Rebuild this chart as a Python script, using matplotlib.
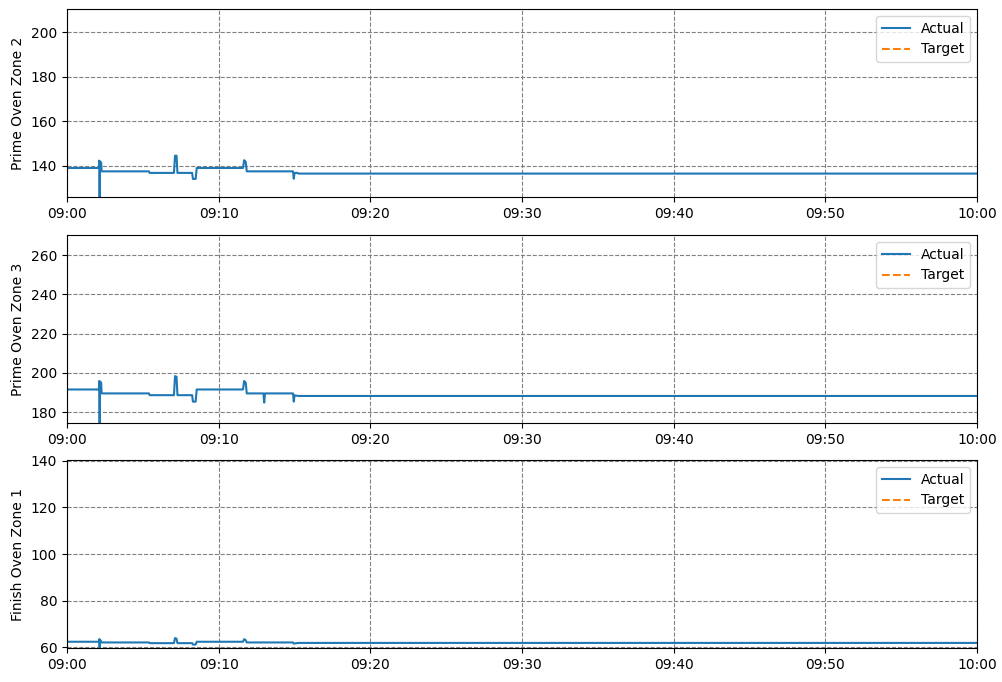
import numpy as np
import pandas as pd
import matplotlib
matplotlib.use("Agg")
import matplotlib.pyplot as plt
import matplotlib.dates as mdates

# minutes after 09:00 and readings for each zone (breakpoints)
zone2_min = [0, 2.10, 2.12, 2.15, 2.18, 2.25, 2.28, 5.40, 5.45, 7.05, 7.12, 7.22, 7.28,
             8.25, 8.30, 8.48, 8.55, 11.60, 11.68, 11.78, 11.85, 14.90, 14.95, 15.00,
             15.20, 15.25, 60]
zone2_val = [139.1, 139.1, 142.4, 126.0, 142.0, 141.5, 137.6, 137.6, 136.9, 136.9, 144.6,
             144.6, 136.9, 136.9, 134.2, 134.2, 139.1, 139.1, 142.6, 141.8, 137.6, 137.6,
             134.3, 136.9, 136.9, 136.6, 136.6]
zone2_target = 210.35

zone3_min = [0, 2.10, 2.12, 2.15, 2.18, 2.25, 2.28, 5.40, 5.45, 7.05, 7.12, 7.22, 7.28,
             8.25, 8.30, 8.48, 8.55, 11.60, 11.68, 11.78, 11.85, 12.95, 13.00, 13.05,
             14.90, 14.95, 15.00, 15.25, 60]
zone3_val = [191.5, 191.5, 195.8, 173.0, 195.5, 195.0, 189.5, 189.5, 188.6, 188.6, 198.3,
             198.0, 188.6, 188.6, 185.3, 185.3, 191.5, 191.5, 195.8, 195.0, 189.5, 189.5,
             184.8, 189.5, 189.5, 185.3, 188.5, 188.2, 188.2]
zone3_target = 280.0

finish1_min = [0, 2.10, 2.12, 2.15, 2.18, 2.28, 5.40, 5.45, 7.05, 7.12, 7.22, 7.28,
               8.25, 8.30, 8.48, 8.55, 11.60, 11.68, 11.78, 11.85, 14.90, 14.95, 15.25, 60]
finish1_val = [62.3, 62.3, 63.4, 59.8, 63.2, 62.0, 62.0, 61.7, 61.7, 63.9, 63.6, 61.7,
               61.7, 61.1, 61.1, 62.3, 62.3, 63.4, 63.0, 62.0, 62.0, 61.5, 61.8, 61.8]
finish1_target = 140.45

zones = [
    ("Prime Oven Zone 2", zone2_min, zone2_val, zone2_target, (126.1, 210.3)),
    ("Prime Oven Zone 3", zone3_min, zone3_val, zone3_target, (174.4, 270.2)),
    ("Finish Oven Zone 1", finish1_min, finish1_val, finish1_target, (59.6, 140.4)),
]

start = pd.Timestamp("2024-01-01 09:00")
end = pd.Timestamp("2024-01-01 10:00")

fig = plt.figure(figsize=(10.02, 6.82), dpi=100)
tops = [0.9868, 0.6554, 0.3255]
h = 0.2757

for (name, mins, vals, target, ylim), top in zip(zones, tops):
    ax = fig.add_axes([0.0669, top - h, 0.9082, h])
    times = start + pd.to_timedelta(mins, unit="m")
    ax.plot(times, vals, label="Actual")
    ax.plot([start, end], [target, target], linestyle="--", label="Target")
    ax.set_xlim(start, end)
    ax.set_ylim(*ylim)
    ax.set_ylabel(name)
    ax.xaxis.set_major_locator(mdates.MinuteLocator(byminute=range(0, 60, 10)))
    ax.xaxis.set_major_formatter(mdates.DateFormatter("%H:%M"))
    ax.grid(True, color="gray", linestyle="--")
    ax.legend(loc="upper right")

fig.savefig("out.png", dpi=100)
